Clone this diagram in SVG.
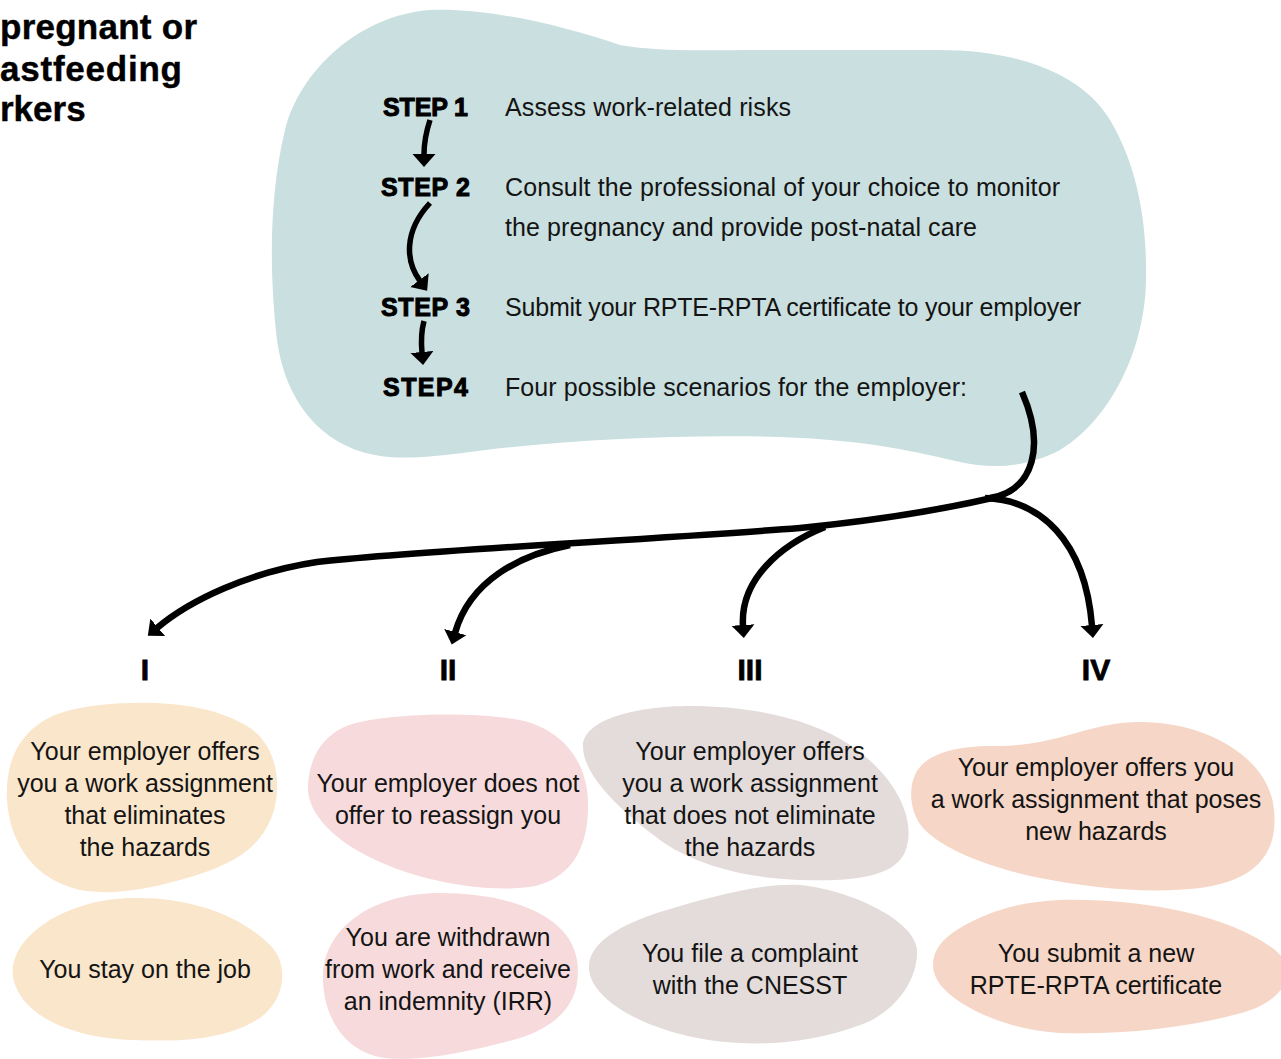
<svg xmlns="http://www.w3.org/2000/svg" width="1281" height="1059" viewBox="0 0 1281 1059">
<defs>
<style>
.t{font-family:"Liberation Sans",Arial,sans-serif;font-size:25px;fill:#141414}
.c{text-anchor:middle}
.step{font-family:"Liberation Sans",Arial,sans-serif;font-weight:bold;font-size:25px;fill:#000;stroke:#000;stroke-width:1}
.title{font-family:"Liberation Sans",Arial,sans-serif;font-weight:bold;font-size:35px;fill:#000;stroke:#000;stroke-width:0.4}
.num{font-family:"Liberation Sans",Arial,sans-serif;font-weight:bold;font-size:30px;text-anchor:middle;fill:#000;stroke:#000;stroke-width:0.8}
.flow{fill:none;stroke:#000;stroke-width:6.5;marker-end:url(#ah)}
.sflow{fill:none;stroke:#000;stroke-width:5.5;marker-end:url(#ah)}
.peach{fill:#fae6cb}
.pink{fill:#f7dbdc}
.grey{fill:#e3dcda}
.salmon{fill:#f6d6c6}
.main{fill:#cadfdf}
</style>
<marker id="ah" viewBox="0 -12 14 24" refX="1" refY="0" markerWidth="14" markerHeight="24" orient="auto" markerUnits="userSpaceOnUse">
<path d="M0,-11.5 L13,0 L0,11.5 Z" fill="#000"/>
</marker>
</defs>
<rect width="1281" height="1059" fill="#fff"/>

<g id="title">
<text class="title" x="0" y="39" textLength="197" lengthAdjust="spacing">pregnant or</text>
<text class="title" x="0" y="81" textLength="182" lengthAdjust="spacing">astfeeding</text>
<text class="title" x="0" y="121">rkers</text>
</g>

<g id="steps">
<path class="main" d="M430,10 C490,8 560,25 620,45 C660,52 700,50 760,50 L940,50 C1010,50 1080,70 1110,120 C1140,170 1147,230 1146,280 C1145,350 1110,420 1060,450 C1030,466 995,470 960,462 C920,453 870,440 780,437 C680,434 560,440 470,452 C430,457 400,460 375,455 C320,445 285,400 277,340 C270,280 268,200 285,130 C300,70 360,15 430,10 Z"/>
<g id="step1"><text class="step" x="383" y="116" textLength="85" lengthAdjust="spacing">STEP 1</text><text class="t" x="505" y="116" textLength="286" lengthAdjust="spacing">Assess work-related risks</text></g>
<g id="step2"><text class="step" x="381" y="196" textLength="89" lengthAdjust="spacing">STEP 2</text><text class="t" x="505" y="196" textLength="555" lengthAdjust="spacing">Consult the professional of your choice to monitor</text><text class="t" x="505" y="236" textLength="472" lengthAdjust="spacing">the pregnancy and provide post-natal care</text></g>
<g id="step3"><text class="step" x="381" y="316" textLength="89" lengthAdjust="spacing">STEP 3</text><text class="t" x="505" y="316" textLength="576" lengthAdjust="spacing">Submit your RPTE-RPTA certificate to your employer</text></g>
<g id="step4"><text class="step" x="383" y="396" textLength="85" lengthAdjust="spacing">STEP4</text><text class="t" x="505" y="396" textLength="462" lengthAdjust="spacing">Four possible scenarios for the employer:</text></g>
</g>

<g id="connectors">
<path class="sflow" d="M430,120 C426,132 424,143 424,155"/>
<path class="sflow" d="M430,203 C403,232 406,262 420,281"/>
<path class="sflow" d="M424,321 C421,332 421,342 422,353"/>
<path fill="none" stroke="#000" stroke-width="6.5" d="M1022,392 C1045,445 1035,490 990,498"/>
<path class="flow" d="M992,498 C940,510 880,520 800,528 C650,540 420,550 317,562 C250,572 190,600 157,628"/>
<path class="flow" d="M570,545 C520,555 470,580 455,633"/>
<path class="flow" d="M825,527 C780,545 740,580 743,626"/>
<path class="flow" d="M985,498 C1040,500 1085,540 1092,626"/>
</g>

<g id="labels">
<text class="num" x="145" y="680">I</text>
<text class="num" x="448" y="680">II</text>
<text class="num" x="750" y="680">III</text>
<text class="num" x="1096" y="680">IV</text>
</g>

<g id="scenario1">
<path class="peach" d="M100,705 C150,700 210,702 250,728 C275,745 282,780 274,810 C262,850 230,866 180,880 C140,891 110,895 80,890 C35,880 10,845 7,800 C5,760 20,730 55,715 C70,709 85,707 100,705 Z"/>
<text class="t c" x="145" y="760">Your employer offers</text>
<text class="t c" x="145" y="792">you a work assignment</text>
<text class="t c" x="145" y="824">that eliminates</text>
<text class="t c" x="145" y="856">the hazards</text>
</g>
<g id="outcome1">
<path class="peach" d="M133,898 C190,897 240,915 270,945 C290,965 285,1000 260,1018 C225,1040 180,1042 133,1040 C70,1038 20,1015 13,977 C8,935 70,898 133,898 Z"/>
<text class="t c" x="145" y="978">You stay on the job</text>
</g>

<g id="scenario2">
<path class="pink" d="M360,722 C410,712 480,713 520,720 C565,730 590,765 588,810 C587,850 570,880 530,887 C480,893 420,880 380,862 C330,840 306,810 308,785 C310,750 330,728 360,722 Z"/>
<text class="t c" x="448" y="792">Your employer does not</text>
<text class="t c" x="448" y="824">offer to reassign you</text>
</g>
<g id="outcome2">
<path class="pink" d="M440,893 C510,893 570,915 577,960 C583,1000 560,1025 520,1038 C470,1052 420,1062 385,1058 C340,1052 322,1010 323,975 C324,930 370,893 440,893 Z"/>
<text class="t c" x="448" y="946">You are withdrawn</text>
<text class="t c" x="448" y="978">from work and receive</text>
<text class="t c" x="448" y="1010">an indemnity (IRR)</text>
</g>

<g id="scenario3">
<path class="grey" d="M583,745 C585,718 640,706 690,706 C750,706 810,718 850,745 C895,775 918,820 905,852 C895,875 860,882 800,880 C740,878 690,862 660,840 C620,810 582,775 583,745 Z"/>
<text class="t c" x="750" y="760">Your employer offers</text>
<text class="t c" x="750" y="792">you a work assignment</text>
<text class="t c" x="750" y="824">that does not eliminate</text>
<text class="t c" x="750" y="856">the hazards</text>
</g>
<g id="outcome3">
<path class="grey" d="M800,885 C850,890 915,920 917,950 C918,985 890,1015 860,1025 C820,1040 780,1045 740,1043 C670,1040 600,1010 590,975 C582,945 620,925 660,912 C710,897 760,883 800,885 Z"/>
<text class="t c" x="750" y="962">You file a complaint</text>
<text class="t c" x="750" y="994">with the CNESST</text>
</g>

<g id="scenario4">
<path class="salmon" d="M915,775 C925,752 960,745 1000,746 C1060,745 1090,722 1140,722 C1210,722 1270,760 1274,810 C1278,850 1260,880 1200,888 C1150,894 1090,888 1040,878 C990,868 945,850 925,830 C910,815 908,790 915,775 Z"/>
<text class="t c" x="1096" y="776">Your employer offers you</text>
<text class="t c" x="1096" y="808">a work assignment that poses</text>
<text class="t c" x="1096" y="840">new hazards</text>
</g>
<g id="outcome4">
<path class="salmon" d="M1060,900 C1140,898 1230,915 1275,950 C1300,970 1285,1000 1245,1012 C1190,1028 1120,1035 1060,1033 C1010,1030 965,1010 945,990 C925,970 930,945 960,928 C990,910 1020,902 1060,900 Z"/>
<text class="t c" x="1096" y="962">You submit a new</text>
<text class="t c" x="1096" y="994">RPTE-RPTA certificate</text>
</g>
</svg>
